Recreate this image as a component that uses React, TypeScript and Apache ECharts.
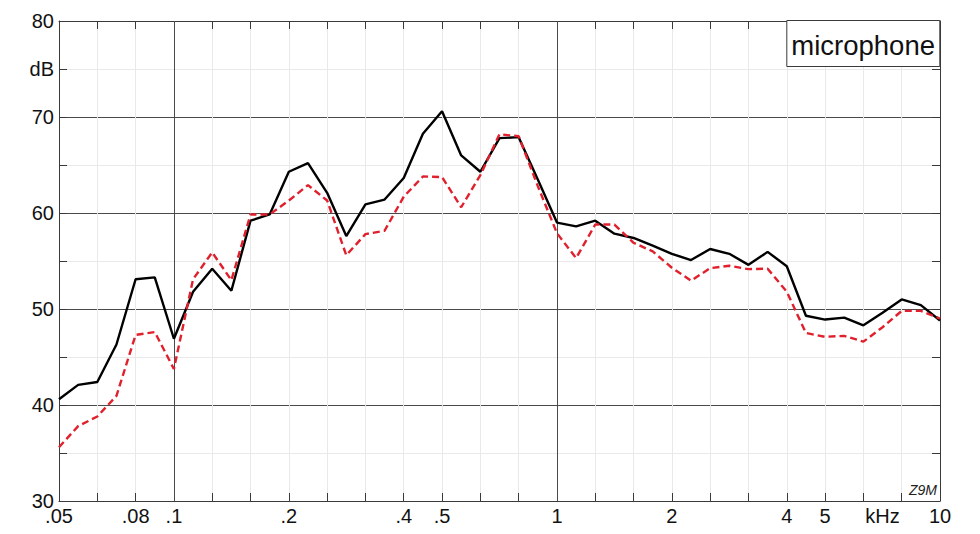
import { useEffect, useRef } from "react";
import * as echarts from "echarts";

// 1/6-octave frequency points, kHz
const freqs = [
  "0.05", "0.056", "0.063", "0.071", "0.08", "0.09", "0.1", "0.112", "0.125", "0.14", "0.16", "0.18",
  "0.2", "0.224", "0.25", "0.28", "0.315", "0.355", "0.4", "0.45", "0.5", "0.56", "0.63", "0.71",
  "0.8", "0.9", "1", "1.12", "1.25", "1.4", "1.6", "1.8", "2", "2.24", "2.5", "2.8", "3.15", "3.55",
  "4", "4.5", "5", "5.6", "6.3", "7.1", "8", "9", "10"
];

const solidDb = [
  40.6, 42.1, 42.4, 46.3, 53.1, 53.3, 46.9, 51.8, 54.2, 51.9, 59.2, 59.85,
  64.3, 65.2, 62.1, 57.6, 60.9, 61.4, 63.65, 68.25, 70.6, 66.0, 64.3, 67.8,
  67.9, 63.5, 59.0, 58.6, 59.2, 57.85, 57.4, 56.6, 55.75, 55.1, 56.25, 55.75, 54.6, 55.95,
  54.45, 49.3, 48.9, 49.1, 48.3, 49.6, 51.0, 50.4, 48.8
];

const dashedDb = [
  35.6, 37.8, 38.8, 40.95, 47.3, 47.6, 43.75, 53.1, 55.9, 53.0, 59.85, 59.85,
  61.3, 62.9, 61.3, 55.6, 57.8, 58.15, 61.7, 63.8, 63.75, 60.6, 63.95, 68.2,
  68.0, 62.8, 57.9, 55.3, 58.8, 58.8, 56.9, 56.0, 54.3, 52.95, 54.25, 54.5, 54.15, 54.2,
  51.8, 47.5, 47.1, 47.2, 46.6, 48.1, 49.8, 49.8, 49.0
];

// x tick labels: which category gets which text
const labelAt = ["0.05", "0.08", "0.1", "0.2", "0.4", "0.5", "1", "2", "4", "5", "7.1", "10"];
const labelText = [".05", ".08", ".1", ".2", ".4", ".5", "1", "2", "4", "5", "kHz", "10"];

// dark vertical grid lines
const decades = ["0.1", "1"];

const FONT = "Liberation Sans";
const FRAME = "#3a3a3a";
const DARK = "#4a4a4a";
const LIGHT = "#e9e9e9";

export default function App() {
  const chartRef = useRef<HTMLDivElement>(null);

  useEffect(() => {
    if (!chartRef.current) return;
    const chart = echarts.init(chartRef.current, null, { renderer: "svg" });

    const evenTick = (i: number) => i % 2 === 0;

    const option = {
      animation: false,
      backgroundColor: "#fff",
      title: {
        text: "microphone",
        right: 40,
        top: 20,
        padding: [11, 5, 8, 5],
        borderColor: FRAME,
        borderWidth: 1,
        backgroundColor: "#fff",
        textStyle: { fontFamily: FONT, fontSize: 27.5, fontWeight: "normal", color: "#111", lineHeight: 28 }
      },
      graphic: [
        {
          type: "text",
          right: 43,
          bottom: 37,
          style: { text: "Z9M", fontFamily: FONT, fontSize: 14, fontStyle: "italic", fill: "#222" }
        }
      ],
      grid: { left: 59, right: 40, top: 21, bottom: 33, show: false },
      xAxis: [
        {
          type: "category",
          data: freqs,
          boundaryGap: false,
          position: "bottom",
          axisLine: { show: true, lineStyle: { color: FRAME, width: 1 } },
          axisTick: { show: true, inside: true, length: 8, interval: evenTick, lineStyle: { color: FRAME } },
          axisLabel: {
            interval: (_i: number, v: string) => labelAt.includes(v),
            formatter: (v: string) => labelText[labelAt.indexOf(v)] ?? "",
            fontFamily: FONT,
            fontSize: 20,
            lineHeight: 16,
            color: "#111",
            margin: 7
          },
          splitLine: { show: true, interval: evenTick, lineStyle: { color: LIGHT, width: 1 } }
        },
        {
          type: "category",
          data: freqs,
          boundaryGap: false,
          position: "top",
          axisLine: { show: true, lineStyle: { color: FRAME, width: 1 } },
          axisTick: { show: true, inside: true, length: 8, interval: evenTick, lineStyle: { color: FRAME } },
          axisLabel: { show: false },
          splitLine: { show: false }
        }
      ],
      yAxis: [
        {
          type: "value",
          min: 30,
          max: 80,
          interval: 5,
          position: "left",
          axisLine: { show: true, lineStyle: { color: FRAME, width: 1 } },
          axisTick: { show: true, inside: true, length: 8, lineStyle: { color: FRAME } },
          axisLabel: {
            formatter: (v: number) => (v % 10 === 0 ? String(v) : v === 75 ? "dB" : ""),
            fontFamily: FONT,
            fontSize: 20,
            lineHeight: 12,
            color: "#111",
            margin: 5
          },
          splitLine: { show: true, lineStyle: { color: [DARK, LIGHT], width: 1 } }
        },
        {
          type: "value",
          min: 30,
          max: 80,
          interval: 5,
          position: "right",
          axisLine: { show: true, lineStyle: { color: FRAME, width: 1 } },
          axisTick: { show: true, inside: true, length: 8, lineStyle: { color: FRAME } },
          axisLabel: { show: false },
          splitLine: { show: false }
        }
      ],
      series: [
        {
          name: "solid",
          type: "line",
          data: solidDb,
          symbol: "none",
          lineStyle: { color: "#000", width: 2.4 },
          z: 3,
          markLine: {
            silent: true,
            symbol: "none",
            z: 1,
            label: { show: false },
            lineStyle: { color: DARK, width: 1, type: "solid" },
            data: decades.map(d => ({ xAxis: d }))
          }
        },
        {
          name: "dashed",
          type: "line",
          data: dashedDb,
          symbol: "none",
          lineStyle: { color: "#e0202c", width: 2.4, type: [7, 4] },
          z: 4
        }
      ]
    };

    chart.setOption(option);
    return () => {
      chart.dispose();
    };
  }, []);

  return (
    <div
      ref={chartRef}
      style={{ position: "absolute", left: 0, top: 0, width: "980px", height: "534px" }}
    />
  );
}
